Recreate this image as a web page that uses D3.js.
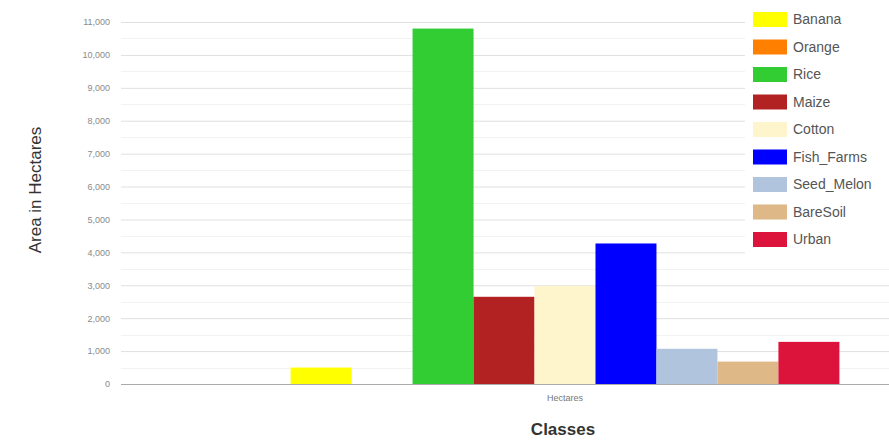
<!DOCTYPE html>
<html>
<head>
<meta charset="utf-8">
<script src="https://cdn.jsdelivr.net/npm/d3@7"></script>
<style>
	body { margin: 0; background: #fff; }
	svg { display: block; font-family: Arial, "Liberation Sans", sans-serif; }
</style>
</head>
<body>
<div id="chart"></div>
<script>
// one category, nine series
var categories = ["Hectares"];
var series = ["Banana", "Orange", "Rice", "Maize", "Cotton", "Fish_Farms", "Seed_Melon", "BareSoil", "Urban"];
var values = [500, 0, 10800, 2650, 2980, 4270, 1070, 680, 1280];
var colors = ["#ffff00", "#ff8000", "#32cd32", "#b22222", "#fff5cc", "#0000ff", "#b0c4de", "#deb887", "#dc143c"];
var yTicks = [0, 1000, 2000, 3000, 4000, 5000, 6000, 7000, 8000, 9000, 10000, 11000];

var width = 889,
	height = 441,
	// plot area runs past the right edge (the original was cropped)
	margin = {top: 22, left: 121, plotRight: 1009, bottom: 384};

var svg = d3.select("#chart")
	.append("svg")
	.attr("width", width)
	.attr("height", height);

var y = d3.scaleLinear()
	.domain([0, 11000])
	.range([margin.bottom, margin.top]);

// google style group width: 61.8% of the category
var x0 = d3.scaleBand()
	.domain(categories)
	.range([margin.left, margin.plotRight])
	.paddingInner(0.382)
	.paddingOuter(0.191);

var x1 = d3.scaleBand()
	.domain(series)
	.range([0, x0.bandwidth()]);

//minor gridlines
svg.append("g")
	.selectAll("line")
	.data(yTicks.slice(0, -1).map(function(d) { return d + 500; }))
	.join("line")
	.attr("x1", margin.left)
	.attr("x2", width)
	.attr("y1", function(d) { return Math.round(y(d)) + 0.5; })
	.attr("y2", function(d) { return Math.round(y(d)) + 0.5; })
	.attr("stroke", "#f2f2f2");

//major gridlines + labels
var yAxis = d3.axisLeft(y)
	.tickValues(yTicks)
	.tickSize(-(width - margin.left))
	.tickPadding(11)
	.tickFormat(d3.format(","));

var gy = svg.append("g")
	.attr("transform", "translate(" + margin.left + ",0)")
	.call(yAxis);
gy.select(".domain").remove();
gy.selectAll(".tick line")
	.attr("stroke", function(d) { return d === 0 ? "#aaa" : "#e0e0e0"; });
gy.selectAll(".tick text")
	.attr("fill", "#8a8a8a")
	.style("font-size", "9px");

//bars
var group = svg.append("g")
	.selectAll("g")
	.data(categories)
	.join("g")
	.attr("transform", function(d) { return "translate(" + x0(d) + ",0)"; });

group.selectAll("rect")
	.data(series.map(function(s, i) { return {name: s, value: values[i], color: colors[i]}; }))
	.join("rect")
	.attr("x", function(d) { return x1(d.name); })
	.attr("width", x1.bandwidth())
	.attr("y", function(d) { return y(d.value); })
	.attr("height", function(d) { return y(0) - y(d.value); })
	.attr("fill", function(d) { return d.color; });

//category label
svg.append("g")
	.selectAll("text")
	.data(categories)
	.join("text")
	.attr("x", function(d) { return x0(d) + x0.bandwidth() / 2; })
	.attr("y", 401)
	.attr("text-anchor", "middle")
	.attr("fill", "#777")
	.style("font-size", "9px")
	.text(function(d) { return d; });

//axis titles
svg.append("text")
	.attr("x", 563)
	.attr("y", 435)
	.attr("text-anchor", "middle")
	.attr("fill", "#333")
	.style("font-size", "17px")
	.style("font-weight", "bold")
	.text("Classes");

svg.append("text")
	.attr("transform", "translate(41,190) rotate(-90)")
	.attr("text-anchor", "middle")
	.attr("fill", "#333")
	.style("font-size", "17px")
	.text("Area in Hectares");

//legend
var legend = svg.append("g");
legend.append("rect")
	.attr("x", 745)
	.attr("y", 0)
	.attr("width", width - 745)
	.attr("height", 258)
	.attr("fill", "#fff");

var item = legend.selectAll("g")
	.data(series)
	.join("g")
	.attr("transform", function(d, i) { return "translate(753," + (19.5 + i * 27.5) + ")"; });

item.append("rect")
	.attr("x", 0)
	.attr("y", -7.5)
	.attr("width", 34)
	.attr("height", 15)
	.attr("fill", function(d, i) { return colors[i]; });

item.append("text")
	.attr("x", 40)
	.attr("dy", "0.35em")
	.attr("fill", "#555")
	.style("font-size", "14px")
	.text(function(d) { return d; });
</script>
</body>
</html>
